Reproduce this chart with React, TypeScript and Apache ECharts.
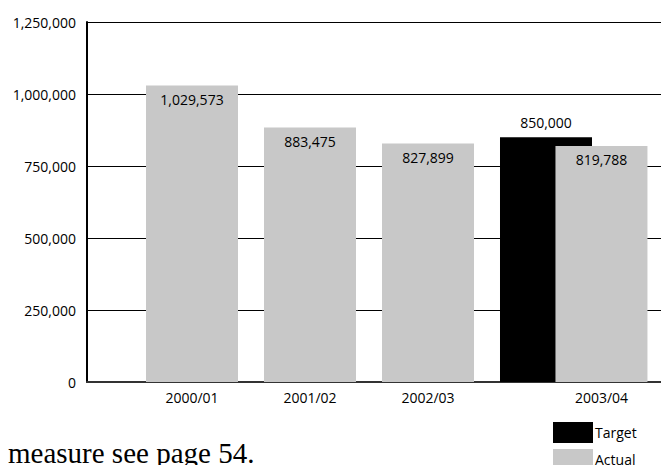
import React, { useEffect, useRef } from "react";
import * as echarts from "echarts";

const categories = ["2000/01", "2001/02", "2002/03", "2003/04"];
const actualValues = [1029573, 883475, 827899, 819788];
const targetValues = [null, null, null, 850000];
const yTicks = [0, 250000, 500000, 750000, 1000000, 1250000];
// shift (in category units) of the last Actual bar so it overlaps the Target bar
const LAST_ACTUAL_SHIFT = 0.47;

const FONT = "'Open Sans', sans-serif";

export default function App() {
  const ref = useRef<HTMLDivElement>(null);
  useEffect(() => {
    if (!ref.current) return;
    const chart = echarts.init(ref.current, null, { renderer: "svg" });
    const actualX = categories.map((_, i) =>
      i === categories.length - 1 ? i + LAST_ACTUAL_SHIFT : i
    );
    const fmt = (v: number) => v.toLocaleString("en-US");
    chart.setOption({
      animation: false,
      backgroundColor: "#fff",
      grid: { left: 87, right: 0, top: 22, bottom: 83, containLabel: false },
      legend: {
        orient: "vertical",
        left: 553,
        top: 422,
        height: 80,
        padding: 0,
        itemWidth: 40,
        itemHeight: 21,
        itemGap: 6,
        icon: "rect",
        data: ["Target", "Actual"],
        textStyle: { fontFamily: FONT, fontSize: 14, color: "#000", padding: [0, 0, 0, -3] },
      },
      xAxis: {
        type: "value",
        min: -0.8898,
        max: 3.9746,
        axisLine: { show: true, onZero: false, lineStyle: { color: "#333", width: 2 } },
        axisTick: { show: false },
        splitLine: { show: false },
        axisLabel: {
          customValues: actualX,
          fontFamily: FONT,
          fontSize: 14,
          color: "#000",
          margin: 8,
          formatter: (v: number) => {
            let best = 0;
            actualX.forEach((x, i) => {
              if (Math.abs(x - v) < Math.abs(actualX[best] - v)) best = i;
            });
            return categories[best];
          },
        },
      },
      yAxis: {
        type: "value",
        min: yTicks[0],
        max: yTicks[yTicks.length - 1],
        interval: yTicks[1] - yTicks[0],
        axisLine: { show: true, onZero: false, lineStyle: { color: "#000", width: 2 } },
        axisTick: { show: false },
        splitLine: { show: true, lineStyle: { color: "#000", width: 1 } },
        axisLabel: {
          fontFamily: FONT,
          fontSize: 14,
          color: "#000",
          margin: 11,
          formatter: (v: number) => fmt(v),
        },
      },
      series: [
        {
          name: "Target",
          type: "bar",
          barWidth: 92,
          barGap: "-100%",
          itemStyle: { color: "#000" },
          data: targetValues.map((v, i) => (v == null ? null : [i, v])).filter((d) => d),
          label: {
            show: true,
            position: "top",
            distance: 8,
            fontFamily: FONT,
            fontSize: 14,
            color: "#000",
            formatter: (p: any) => fmt(p.value[1]),
          },
        },
        {
          name: "Actual",
          type: "bar",
          barWidth: 92,
          barGap: "-100%",
          itemStyle: { color: "#c8c8c8" },
          data: actualValues.map((v, i) => [actualX[i], v]),
          label: {
            show: true,
            position: "insideTop",
            distance: 7,
            fontFamily: FONT,
            fontSize: 14,
            color: "#000",
            formatter: (p: any) => fmt(p.value[1]),
          },
        },
      ],
      graphic: [
        {
          type: "text",
          left: 8,
          top: 438,
          style: {
            text: "measure see page 54.",
            fontFamily: "'Liberation Serif', serif",
            fontSize: 29,
            fill: "#000",
          },
        },
      ],
    });
    return () => chart.dispose();
  }, []);
  return (
    <div
      ref={ref}
      style={{ position: "fixed", left: 0, top: 0, width: 661, height: 465 }}
    />
  );
}
